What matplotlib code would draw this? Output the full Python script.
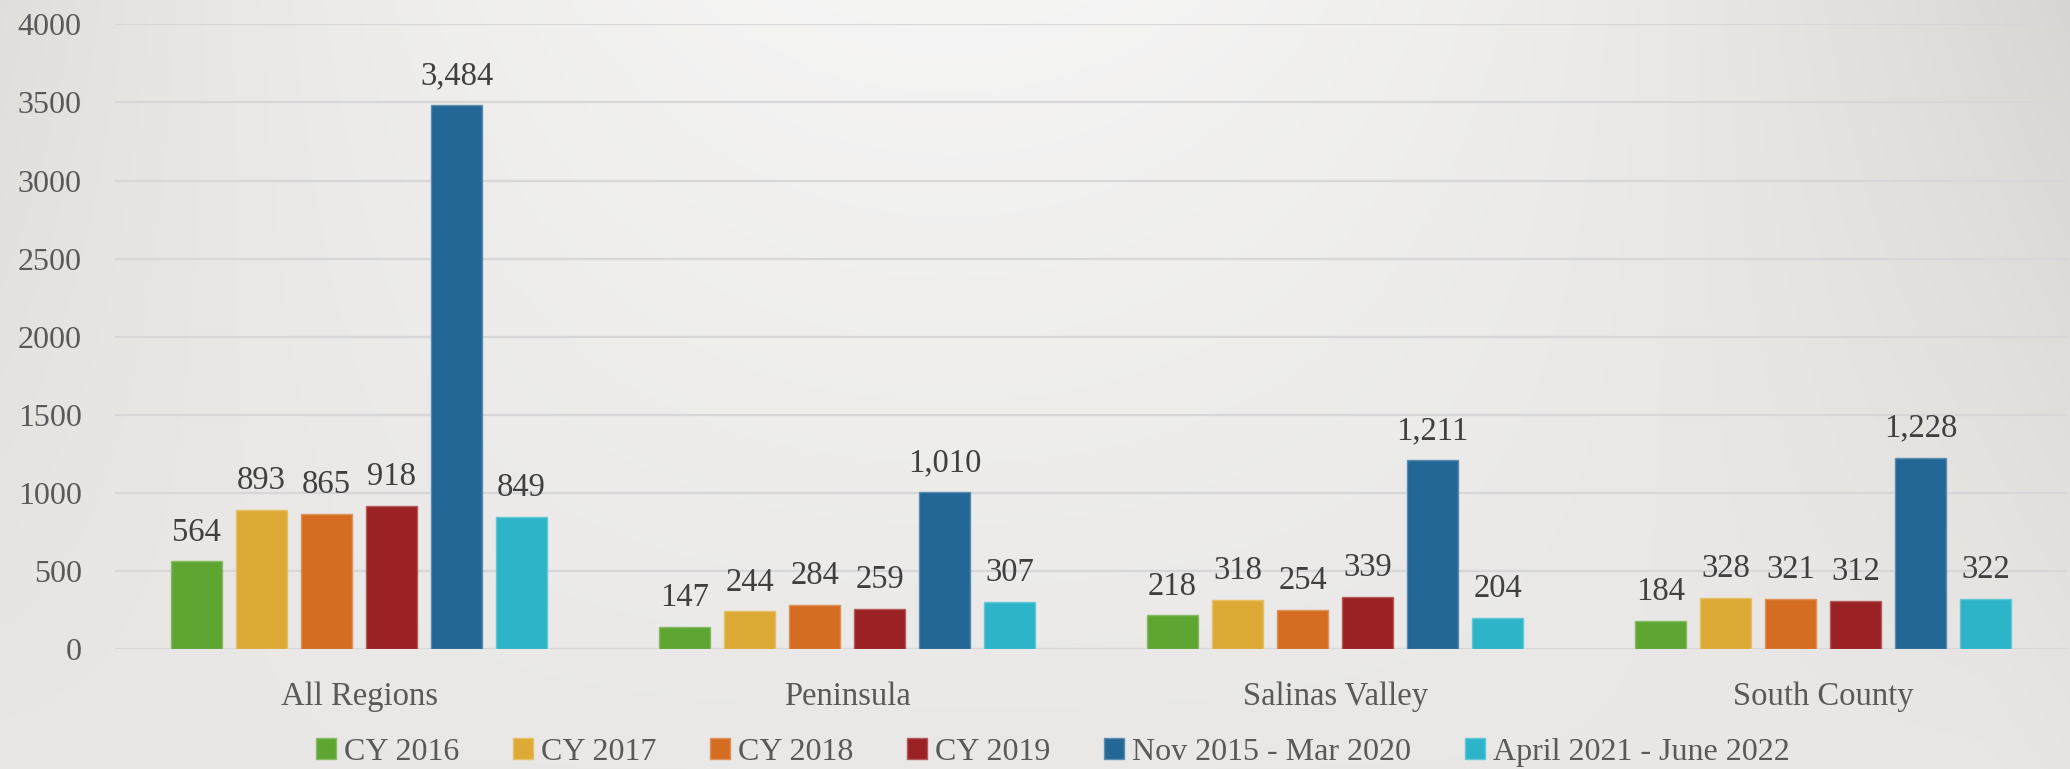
import numpy as np
from matplotlib import pyplot as plt

# Data
regions = ['All Regions', 'Peninsula', 'Salinas Valley', 'South County']
series_names = ['CY 2016', 'CY 2017', 'CY 2018', 'CY 2019',
                'Nov 2015 - Mar 2020', 'April 2021 - June 2022']
cy2016 = [564, 147, 218, 184]
cy2017 = [893, 244, 318, 328]
cy2018 = [865, 284, 254, 321]
cy2019 = [918, 259, 339, 312]
nov15_mar20 = [3484, 1010, 1211, 1228]
apr21_jun22 = [849, 307, 204, 322]
y_ticks = [0, 500, 1000, 1500, 2000, 2500, 3000, 3500, 4000]

series = [cy2016, cy2017, cy2018, cy2019, nov15_mar20, apr21_jun22]
colors = ['#5fa532', '#ddab35', '#d46c22', '#9a2124', '#236796', '#2db4c8']

plt.rcParams['font.family'] = ['Liberation Serif', 'DejaVu Serif']

fig = plt.figure(figsize=(20.7, 7.69), dpi=100)

# Background: soft gradient, bright at top center
bg = fig.add_axes([0, 0, 1, 1], zorder=-10)
h, w = 769, 2070
yy, xx = np.mgrid[0:h, 0:w]
u = (xx - 950) / 1035.0
v = yy / float(h)
u2 = np.clip(u ** 2, 0, 1.2)
lum = 245 - 25 * u2 * (1 - 0.5 * v) - 12 * v * (1 - np.clip(u2, 0, 1))
img = np.dstack([lum, lum - 0.5 - 1.0 * (245 - lum) / 25, lum - 1 - 4 * (245 - lum) / 25])
bg.imshow(np.clip(img, 0, 255).astype(np.uint8), aspect='auto', extent=(0, 1, 0, 1))
bg.axis('off')

ax = fig.add_axes([0.0556, 0.1554, 0.9430, 0.8130])
ax.set_facecolor('none')

x = np.arange(len(regions))
pitch = 0.1332
width = 0.1045
for i, (vals, col, name) in enumerate(zip(series, colors, series_names)):
    pos = x + (i - 2.5) * pitch
    edge = tuple(0.75 * np.array(plt.matplotlib.colors.to_rgb(col)) + 0.25)
    bars = ax.bar(pos, vals, width, color=col, edgecolor=edge, linewidth=1.0,
                  label=name, zorder=3)
    for b, val in zip(bars, vals):
        ax.annotate(f'{val:,}', (b.get_x() + b.get_width() / 2, val),
                    xytext=(0, 15), textcoords='offset points',
                    ha='center', va='baseline', fontsize=23.5, color='#404040')

ax.set_xlim(-0.5, 3.5)
ax.set_ylim(0, 4000)
ax.set_yticks(y_ticks)
ax.set_yticklabels([str(t) for t in y_ticks])
ax.set_xticks(x)
ax.set_xticklabels(regions)
ax.tick_params(axis='y', length=0, pad=24, labelsize=23, labelcolor='#595959')
ax.tick_params(axis='x', length=0, pad=23, labelsize=23.5, labelcolor='#595959')
ax.grid(axis='y', color='#d7d6d9', linewidth=1.6, zorder=0)
ax.set_axisbelow(True)
for s in ax.spines.values():
    s.set_visible(False)

fig.legend(loc='center', bbox_to_anchor=(0.5087, 0.0215), ncol=6, frameon=False,
           fontsize=23, handlelength=0.627, handleheight=0.627,
           handletextpad=0.25, columnspacing=1.68, labelcolor='#595959')

fig.savefig('out.png', dpi=100)
